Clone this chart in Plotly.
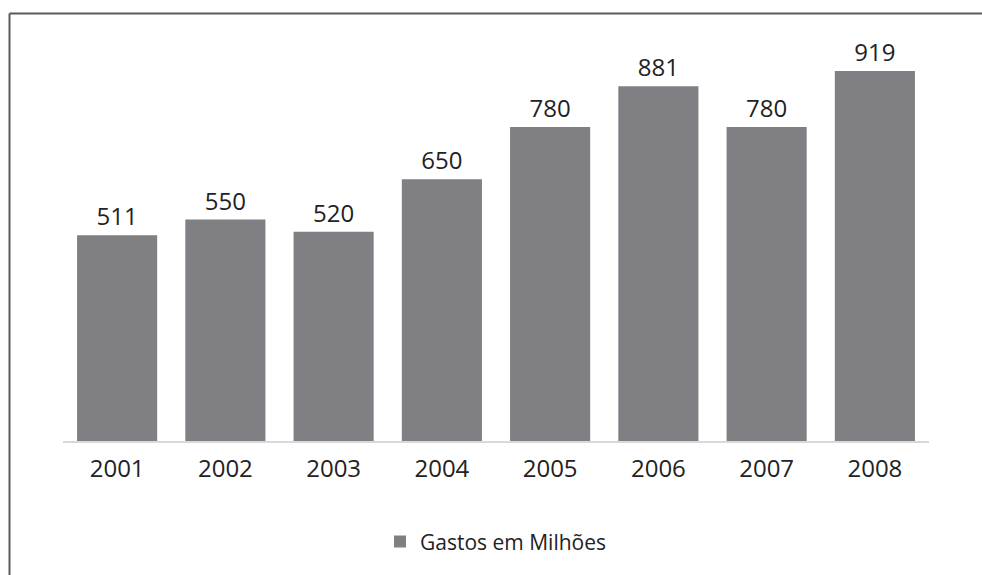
import plotly.graph_objects as go

years = ["2001", "2002", "2003", "2004", "2005", "2006", "2007", "2008"]
gastos = [511, 550, 520, 650, 780, 881, 780, 919]
series_name = "Gastos em Milhões"

W, H = 982, 575
ml, mr, mt, mb = 63, 53, 38, 134
plot_w = W - ml - mr
plot_h = H - mt - mb

fig = go.Figure()
fig.add_trace(go.Bar(
    x=years, y=gastos, name=series_name,
    marker=dict(color="#808084", line=dict(width=0)),
    text=[str(v) for v in gastos], textposition="outside",
    textfont=dict(size=24, color="#222222"),
    cliponaxis=False,
))

# frame lines (top and left)
lx = (9.5 - ml) / plot_w
ty = (H - mb - 13.5) / plot_h
fig.add_shape(type="line", xref="paper", yref="paper", x0=lx, x1=2, y0=ty, y1=ty,
              line=dict(color="#5a5a5a", width=2))
fig.add_shape(type="line", xref="paper", yref="paper", x0=lx, x1=lx, y0=ty, y1=-2,
              line=dict(color="#5a5a5a", width=2))

fig.update_layout(
    width=W, height=H,
    margin=dict(l=ml, r=mr, t=mt, b=mb),
    paper_bgcolor="white", plot_bgcolor="white",
    font=dict(family="Open Sans", color="#222222"),
    bargap=0.26,
    showlegend=True,
    legend=dict(orientation="h", x=0.5, xanchor="center", y=-0.25, yanchor="middle",
                font=dict(size=21, color="#222222")),
    xaxis=dict(showline=True, linecolor="#d9d9d9", linewidth=1.5,
               ticks="outside", ticklen=5, tickcolor="rgba(0,0,0,0)",
               tickfont=dict(size=24, color="#222222"), showgrid=False),
    yaxis=dict(range=[0, 1001], visible=False, showgrid=False),
)

fig.write_html(
    "out.html",
    config={"displayModeBar": False},
    post_script="document.body.style.margin='0';document.body.style.overflow='hidden';",
)
